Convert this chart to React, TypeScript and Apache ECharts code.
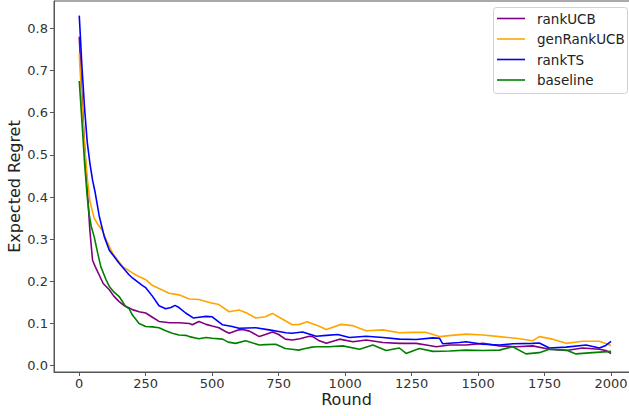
import React, { useEffect, useRef } from "react";
import * as echarts from "echarts";

const seriesNames = ["rankUCB", "genRankUCB", "rankTS", "baseline"];
const seriesColors = ["#800080", "#FFA500", "#0000FF", "#008000"];

const xTicks = [0, 250, 500, 750, 1000, 1250, 1500, 1750, 2000];
const yTicks = [0, 0.1, 0.2, 0.3, 0.4, 0.5, 0.6, 0.7, 0.8];

const rankUCB: [number, number][] = [
  [0, 0.78], [10, 0.64], [20, 0.52], [30, 0.42], [40, 0.32], [50, 0.25], [60, 0.235], [75, 0.215],
  [90, 0.195], [113, 0.18], [130, 0.165], [150, 0.152], [170, 0.142], [188, 0.137], [200, 0.133],
  [225, 0.128], [250, 0.125], [275, 0.115], [300, 0.105], [340, 0.102], [375, 0.102], [414, 0.1],
  [425, 0.097], [450, 0.105], [477, 0.098], [500, 0.094], [525, 0.09], [550, 0.081], [564, 0.077],
  [600, 0.085], [614, 0.086], [640, 0.082], [677, 0.069], [700, 0.074], [727, 0.08], [750, 0.074],
  [775, 0.063], [801, 0.061], [830, 0.064], [865, 0.07], [878, 0.069], [900, 0.06], [929, 0.053],
  [979, 0.063], [1029, 0.057], [1079, 0.061], [1142, 0.055], [1204, 0.053], [1267, 0.053],
  [1305, 0.049], [1343, 0.045], [1392, 0.049], [1455, 0.049], [1518, 0.053], [1580, 0.047],
  [1643, 0.045], [1705, 0.047], [1768, 0.039], [1831, 0.036], [1893, 0.042], [1956, 0.039],
  [1980, 0.036], [2000, 0.029],
];

const genRankUCB: [number, number][] = [
  [0, 0.74], [10, 0.62], [20, 0.52], [31, 0.44], [40, 0.39], [48, 0.37], [56, 0.35], [70, 0.335],
  [88, 0.32], [100, 0.3], [125, 0.267], [163, 0.235], [200, 0.22], [213, 0.215], [250, 0.204],
  [276, 0.19], [300, 0.183], [338, 0.172], [375, 0.168], [414, 0.158], [450, 0.157], [489, 0.15],
  [525, 0.145], [564, 0.128], [601, 0.132], [630, 0.125], [664, 0.113], [700, 0.116], [726, 0.124],
  [760, 0.112], [801, 0.097], [828, 0.098], [857, 0.104], [900, 0.094], [929, 0.086], [985, 0.098],
  [1029, 0.095], [1079, 0.083], [1142, 0.085], [1204, 0.078], [1254, 0.079], [1305, 0.079],
  [1355, 0.069], [1400, 0.072], [1455, 0.075], [1518, 0.073], [1580, 0.069], [1643, 0.065],
  [1705, 0.059], [1730, 0.069], [1780, 0.063], [1831, 0.053], [1893, 0.058], [1956, 0.058],
  [2000, 0.048],
];

const rankTS: [number, number][] = [
  [0, 0.83], [10, 0.71], [20, 0.61], [30, 0.53], [40, 0.48], [50, 0.44], [60, 0.41], [75, 0.355],
  [94, 0.306], [113, 0.274], [150, 0.243], [188, 0.215], [200, 0.208], [238, 0.19], [250, 0.185],
  [275, 0.165], [300, 0.142], [325, 0.135], [345, 0.138], [360, 0.143], [375, 0.138], [400, 0.125],
  [430, 0.113], [450, 0.115], [477, 0.117], [500, 0.116], [539, 0.097], [575, 0.093], [601, 0.089],
  [664, 0.09], [714, 0.085], [750, 0.081], [777, 0.078], [800, 0.077], [840, 0.08], [891, 0.07],
  [930, 0.072], [972, 0.074], [1016, 0.067], [1079, 0.07], [1142, 0.067], [1204, 0.063],
  [1267, 0.062], [1330, 0.066], [1355, 0.065], [1367, 0.052], [1430, 0.055], [1455, 0.057],
  [1518, 0.051], [1580, 0.049], [1630, 0.052], [1705, 0.053], [1730, 0.054], [1768, 0.042],
  [1831, 0.044], [1906, 0.049], [1956, 0.042], [1980, 0.048], [2000, 0.058],
];

const baseline: [number, number][] = [
  [0, 0.675], [10, 0.58], [20, 0.48], [30, 0.4], [37, 0.36], [45, 0.33], [56, 0.306], [70, 0.265],
  [81, 0.235], [100, 0.205], [113, 0.188], [130, 0.175], [150, 0.164], [175, 0.14], [188, 0.135],
  [200, 0.12], [225, 0.1], [250, 0.093], [275, 0.092], [300, 0.09], [325, 0.083], [350, 0.077],
  [375, 0.073], [400, 0.072], [414, 0.069], [450, 0.064], [477, 0.067], [500, 0.065], [539, 0.063],
  [560, 0.056], [588, 0.053], [625, 0.059], [638, 0.057], [677, 0.049], [700, 0.05], [739, 0.051],
  [775, 0.041], [800, 0.039], [825, 0.037], [850, 0.041], [875, 0.044], [891, 0.045], [939, 0.045],
  [991, 0.047], [1054, 0.039], [1104, 0.049], [1154, 0.036], [1204, 0.042], [1229, 0.029],
  [1279, 0.041], [1330, 0.034], [1392, 0.035], [1455, 0.037], [1518, 0.036], [1580, 0.037],
  [1630, 0.045], [1680, 0.028], [1730, 0.031], [1768, 0.039], [1831, 0.037], [1868, 0.028],
  [1931, 0.031], [2000, 0.034],
];

const seriesData = [rankUCB, genRankUCB, rankTS, baseline];

export default function App() {
  const ref = useRef<HTMLDivElement>(null);
  useEffect(() => {
    if (!ref.current) return;
    const chart = echarts.init(ref.current, undefined, { renderer: "svg" });
    const font = "DejaVu Sans";
    const axisColor = "#555555";

    const legendTop = 7;
    const legendLeft = 493;
    const rowH = 20.5;
    const legendGraphics: any[] = [
      {
        type: "rect",
        shape: { x: legendLeft + 0.5, y: legendTop + 0.5, width: 134, height: 86, r: 3 },
        style: { fill: "#ffffff", stroke: "#d0d0d0", lineWidth: 1 },
        z: 100,
      },
    ];
    seriesNames.forEach((name, i) => {
      const cy = legendTop + 11.5 + i * rowH;
      legendGraphics.push({
        type: "line",
        shape: { x1: 497, y1: cy, x2: 525, y2: cy },
        style: { stroke: seriesColors[i], lineWidth: 1.6 },
        z: 101,
      });
      legendGraphics.push({
        type: "text",
        x: 537,
        y: cy,
        style: {
          text: name,
          fontFamily: font,
          fontSize: 13.5,
          fill: "#222222",
          verticalAlign: "middle",
          align: "left",
        },
        z: 101,
      });
    });

    chart.setOption({
      animation: false,
      backgroundColor: "#ffffff",
      textStyle: { fontFamily: font },
      grid: {
        left: 54,
        top: 1,
        right: -10,
        bottom: 44,
        containLabel: false,
        outerBoundsMode: "none",
        show: true,
        borderColor: axisColor,
        borderWidth: 1,
        backgroundColor: "transparent",
      },
      graphic: legendGraphics,
      xAxis: {
        type: "value",
        min: -95,
        max: 2105,
        name: "Round",
        nameLocation: "middle",
        nameGap: 19,
        nameMoveOverlap: false,
        nameTextStyle: { fontFamily: font, fontSize: 16, color: "#222222" },
        axisLine: { show: true, onZero: false, lineStyle: { color: axisColor, width: 1 } },
        axisTick: { show: true, length: 4, customValues: xTicks, lineStyle: { color: axisColor } },
        axisLabel: {
          customValues: xTicks,
          formatter: (v: number) => String(v),
          fontFamily: font,
          fontSize: 13,
          color: "#333333",
          margin: 5,
        },
        splitLine: { show: false },
      },
      yAxis: {
        type: "value",
        min: -0.0149,
        max: 0.8647,
        name: "Expected Regret",
        nameLocation: "middle",
        nameGap: 32,
        nameMoveOverlap: false,
        nameTextStyle: { fontFamily: font, fontSize: 16, color: "#222222" },
        axisLine: { show: true, onZero: false, lineStyle: { color: axisColor, width: 1 } },
        axisTick: { show: true, length: 4, customValues: yTicks, lineStyle: { color: axisColor } },
        axisLabel: {
          customValues: yTicks,
          formatter: (v: number) => v.toFixed(1),
          fontFamily: font,
          fontSize: 13,
          color: "#333333",
          margin: 6,
        },
        splitLine: { show: false },
      },
      series: seriesNames.map((name, i) => ({
        name,
        type: "line",
        data: seriesData[i],
        showSymbol: false,
        symbol: "none",
        lineStyle: { color: seriesColors[i], width: 1.6 },
        itemStyle: { color: seriesColors[i] },
        emphasis: { disabled: true },
      })),
    });
    return () => chart.dispose();
  }, []);
  return (
    <div
      ref={ref}
      style={{ position: "fixed", left: 0, top: 0, width: 629, height: 416 }}
    />
  );
}
